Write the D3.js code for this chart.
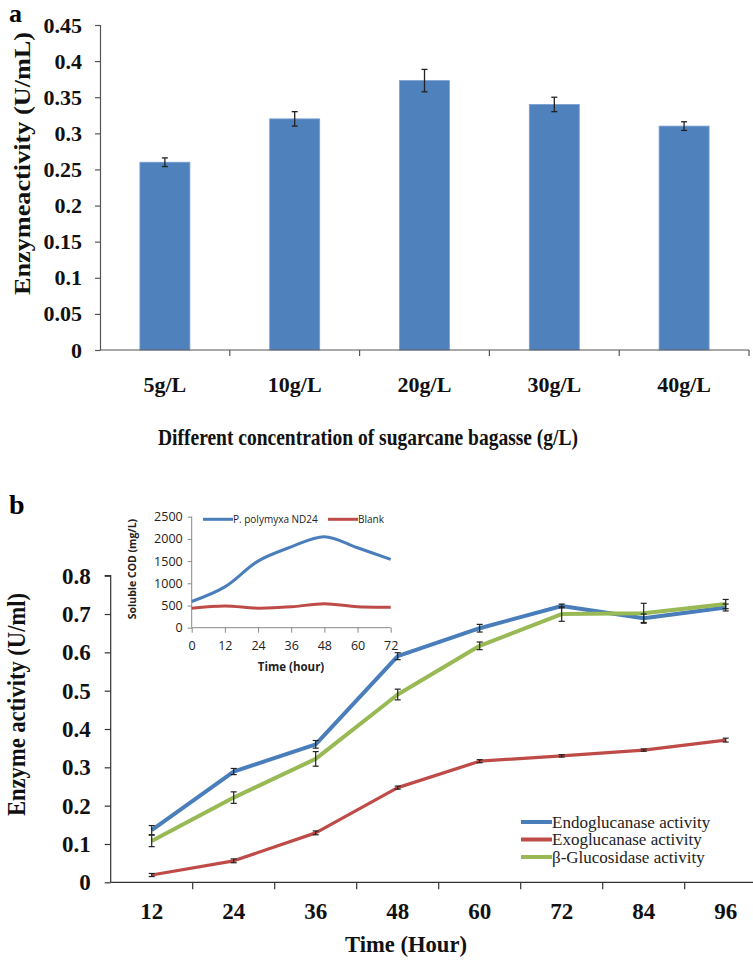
<!DOCTYPE html>
<html>
<head>
<meta charset="utf-8">
<script src="https://cdn.jsdelivr.net/npm/d3@7"></script>
<style>
  body { margin: 0; background: #fff; }
  .serif { font-family: "Liberation Serif", "Times New Roman", serif; }
  .sans { font-family: "Open Sans", "Liberation Sans", sans-serif; }
</style>
</head>
<body>
<div id="chart"></div>
<script>
// panel a data
var concentrations = ["5g/L", "10g/L", "20g/L", "30g/L", "40g/L"];
var activityA = [0.26, 0.32, 0.373, 0.34, 0.31];
var errorA = [0.006, 0.01, 0.0155, 0.01, 0.006];
var ticksA = [0, 0.05, 0.1, 0.15, 0.2, 0.25, 0.3, 0.35, 0.4, 0.45];

// panel b data
var hours = [12, 24, 36, 48, 60, 72, 84, 96];
var endo = [0.136, 0.289, 0.36, 0.59, 0.663, 0.721, 0.689, 0.717];
var endoErr = [0.012, 0.008, 0.01, 0.009, 0.01, 0.005, 0.011, 0.009];
var exo = [0.019, 0.056, 0.129, 0.247, 0.316, 0.33, 0.345, 0.371];
var exoErr = [0.004, 0.005, 0.005, 0.004, 0.004, 0.003, 0.003, 0.005];
var gluc = [0.108, 0.221, 0.322, 0.49, 0.617, 0.70, 0.702, 0.726];
var glucErr = [0.015, 0.015, 0.019, 0.014, 0.01, 0.019, 0.026, 0.012];
var ticksB = [0, 0.1, 0.2, 0.3, 0.4, 0.5, 0.6, 0.7, 0.8];
var seriesNames = ["Endoglucanase activity", "Exoglucanase activity", "\u03b2-Glucosidase activity"];
var seriesColors = ["#4a7ebb", "#be4b48", "#98b954"];

// inset data (soluble COD)
var codHours = [0, 12, 24, 36, 48, 60, 72];
var codStrain = [590, 920, 1500, 1820, 2050, 1800, 1540];
var codBlank = [440, 490, 440, 470, 540, 470, 460];
var codTicks = [0, 500, 1000, 1500, 2000, 2500];
var codNames = ["P. polymyxa  ND24", "Blank"];

var width = 753, height = 961;

var svg = d3.select("#chart").append("svg")
    .attr("width", width)
    .attr("height", height);

//------ PANEL A: bar chart ------\\
var xA = d3.scaleBand()
    .domain(concentrations)
    .range([100, 749])
    .padding(0);
var yA = d3.scaleLinear()
    .domain([0, 0.45])
    .range([350, 25]);
var barW = xA.bandwidth() * 0.385;

var gA = svg.append("g");

// bars
gA.selectAll(".bar")
    .data(activityA)
    .enter().append("rect")
    .attr("class", "bar")
    .attr("x", function(d, i) { return xA(concentrations[i]) + (xA.bandwidth() - barW) / 2; })
    .attr("y", function(d) { return yA(d); })
    .attr("width", barW)
    .attr("height", function(d) { return yA(0) - yA(d); })
    .style("fill", "#4f81bd")
    .style("stroke", "#7a9fcf")
    .style("stroke-width", 0.8);

// error bars
var errA = gA.selectAll(".errA")
    .data(activityA)
    .enter().append("g")
    .attr("transform", function(d, i) {
        return "translate(" + (xA(concentrations[i]) + xA.bandwidth() / 2) + ",0)";
    })
    .style("stroke", "#222")
    .style("stroke-width", 1.3);
errA.append("line")
    .attr("y1", function(d, i) { return yA(d + errorA[i]); })
    .attr("y2", function(d, i) { return yA(d - errorA[i]); });
errA.append("line")
    .attr("x1", -3).attr("x2", 3)
    .attr("y1", function(d, i) { return yA(d + errorA[i]); })
    .attr("y2", function(d, i) { return yA(d + errorA[i]); });
errA.append("line")
    .attr("x1", -3).attr("x2", 3)
    .attr("y1", function(d, i) { return yA(d - errorA[i]); })
    .attr("y2", function(d, i) { return yA(d - errorA[i]); });

// y axis
var yAxisA = gA.append("g")
    .attr("transform", "translate(100,0)")
    .call(d3.axisLeft(yA).tickValues(ticksA).tickSize(5).tickPadding(13)
        .tickFormat(function(d) { return d === 0 ? "0" : String(+d.toFixed(2)); }));
yAxisA.selectAll("line, path").style("stroke", "#555").style("stroke-width", 1.2);
yAxisA.select(".domain").attr("d", "M-5,25.5H0.5V350.5");
yAxisA.selectAll("text")
    .attr("class", "serif")
    .style("font-size", "22px")
    .style("font-weight", "bold")
    .style("fill", "#111");

// x axis
var xAxisA = gA.append("g")
    .attr("transform", "translate(0,350)");
xAxisA.append("line")
    .attr("x1", 100).attr("x2", 749)
    .style("stroke", "#555").style("stroke-width", 1.2);
xAxisA.selectAll(".tk")
    .data(concentrations)
    .enter().append("line")
    .attr("x1", function(d) { return xA(d) + xA.bandwidth(); })
    .attr("x2", function(d) { return xA(d) + xA.bandwidth(); })
    .attr("y1", 0).attr("y2", 6)
    .style("stroke", "#555").style("stroke-width", 1.2);
xAxisA.selectAll(".lbl")
    .data(concentrations)
    .enter().append("text")
    .attr("class", "serif")
    .attr("x", function(d) { return xA(d) + xA.bandwidth() / 2; })
    .attr("y", 42)
    .attr("text-anchor", "middle")
    .style("font-size", "22px")
    .style("font-weight", "bold")
    .style("fill", "#111")
    .text(function(d) { return d; });

// titles
gA.append("text")
    .attr("class", "serif")
    .attr("x", 158).attr("y", 445)
    .attr("textLength", 420)
    .attr("lengthAdjust", "spacingAndGlyphs")
    .style("font-size", "23px")
    .style("font-weight", "bold")
    .style("fill", "#111")
    .text("Different concentration of sugarcane bagasse (g/L)");
gA.append("text")
    .attr("class", "serif")
    .attr("transform", "translate(30,295) rotate(-90)")
    .attr("textLength", 263)
    .attr("lengthAdjust", "spacingAndGlyphs")
    .style("font-size", "24px")
    .style("font-weight", "bold")
    .style("fill", "#111")
    .text("Enzymeactivity (U/mL)");
gA.append("text")
    .attr("class", "serif")
    .attr("x", 9).attr("y", 22)
    .style("font-size", "26px")
    .style("font-weight", "bold")
    .text("a");

//------ PANEL B: line chart ------\\
var xB = d3.scaleBand()
    .domain(hours.concat([108]))
    .range([110.7, 110.7 + 9 * 82])
    .padding(0);
var yB = d3.scaleLinear()
    .domain([0, 0.8])
    .range([882.3, 575.7]);
var cx = function(h) { return xB(h) + xB.bandwidth() / 2; };

var gB = svg.append("g");

// y axis
var yAxisB = gB.append("g")
    .attr("transform", "translate(110.7,0)")
    .call(d3.axisLeft(yB).tickValues(ticksB).tickSize(6).tickPadding(14)
        .tickFormat(function(d) { return d === 0 ? "0" : String(+d.toFixed(1)); }));
yAxisB.selectAll("line, path").style("stroke", "#333").style("stroke-width", 1.2);
yAxisB.select(".domain").attr("d", "M-6,575.7H0V882.3");
yAxisB.selectAll("text")
    .attr("class", "serif")
    .style("font-size", "23px")
    .style("font-weight", "bold")
    .style("fill", "#111");

// x axis
var xAxisB = gB.append("g")
    .attr("transform", "translate(0,882.3)");
xAxisB.append("line")
    .attr("x1", 110.7).attr("x2", width)
    .style("stroke", "#333").style("stroke-width", 1.2);
xAxisB.selectAll(".tk")
    .data(hours)
    .enter().append("line")
    .attr("x1", function(d) { return xB(d) + xB.bandwidth(); })
    .attr("x2", function(d) { return xB(d) + xB.bandwidth(); })
    .attr("y1", 0).attr("y2", 7)
    .style("stroke", "#333").style("stroke-width", 1.2);
xAxisB.selectAll(".lbl")
    .data(hours)
    .enter().append("text")
    .attr("class", "serif")
    .attr("x", function(d) { return cx(d); })
    .attr("y", 37)
    .attr("text-anchor", "middle")
    .style("font-size", "23px")
    .style("font-weight", "bold")
    .style("fill", "#111")
    .text(function(d) { return d; });

// lines
var seriesB = [
    { name: seriesNames[0], values: endo, errs: endoErr, color: seriesColors[0], w: 4 },
    { name: seriesNames[1], values: exo, errs: exoErr, color: seriesColors[1], w: 3.2 },
    { name: seriesNames[2], values: gluc, errs: glucErr, color: seriesColors[2], w: 4 }
];
var lineB = d3.line()
    .x(function(d, i) { return cx(hours[i]); })
    .y(function(d) { return yB(d); });

seriesB.forEach(function(s) {
    gB.append("path")
        .datum(s.values)
        .attr("d", lineB)
        .style("fill", "none")
        .style("stroke", s.color)
        .style("stroke-width", s.w)
        .style("stroke-linejoin", "round");
});

// error bars on top
seriesB.forEach(function(s) {
    var eb = gB.append("g")
        .selectAll("g")
        .data(s.values)
        .enter().append("g")
        .attr("transform", function(d, i) { return "translate(" + cx(hours[i]) + ",0)"; })
        .style("stroke", "#222")
        .style("stroke-width", 1.2);
    eb.append("line")
        .attr("y1", function(d, i) { return yB(d + s.errs[i]); })
        .attr("y2", function(d, i) { return yB(d - s.errs[i]); });
    eb.append("line")
        .attr("x1", -3).attr("x2", 3)
        .attr("y1", function(d, i) { return yB(d + s.errs[i]); })
        .attr("y2", function(d, i) { return yB(d + s.errs[i]); });
    eb.append("line")
        .attr("x1", -3).attr("x2", 3)
        .attr("y1", function(d, i) { return yB(d - s.errs[i]); })
        .attr("y2", function(d, i) { return yB(d - s.errs[i]); });
});

// legend
var legB = gB.append("g")
    .attr("transform", "translate(521,822)");
var legItem = legB.selectAll("g")
    .data(seriesB)
    .enter().append("g")
    .attr("transform", function(d, i) { return "translate(0," + (i * 17.5) + ")"; });
legItem.append("line")
    .attr("x1", 0).attr("x2", 31)
    .style("stroke", function(d) { return d.color; })
    .style("stroke-width", 4);
legItem.append("text")
    .attr("class", "serif")
    .attr("x", 31).attr("y", 5.5)
    .style("font-size", "17px")
    .style("fill", "#222")
    .text(function(d) { return d.name; });

// titles
gB.append("text")
    .attr("class", "serif")
    .attr("x", 345).attr("y", 952)
    .attr("textLength", 122)
    .attr("lengthAdjust", "spacingAndGlyphs")
    .style("font-size", "23px")
    .style("font-weight", "bold")
    .style("fill", "#111")
    .text("Time (Hour)");
gB.append("text")
    .attr("class", "serif")
    .attr("transform", "translate(25,816) rotate(-90)")
    .attr("textLength", 223)
    .attr("lengthAdjust", "spacingAndGlyphs")
    .style("font-size", "25px")
    .style("font-weight", "bold")
    .style("fill", "#111")
    .text("Enzyme activity (U/ml)");
gB.append("text")
    .attr("class", "serif")
    .attr("x", 9).attr("y", 514)
    .style("font-size", "28px")
    .style("font-weight", "bold")
    .text("b");

//------ INSET: soluble COD ------\\
var xI = d3.scaleLinear()
    .domain([0, 72])
    .range([191.7, 390.7]);
var yI = d3.scaleLinear()
    .domain([0, 2500])
    .range([627.7, 516.7]);

var gI = svg.append("g");

var yAxisI = gI.append("g")
    .attr("transform", "translate(191.7,0)")
    .call(d3.axisLeft(yI).tickValues(codTicks).tickSize(4).tickPadding(5)
        .tickFormat(d3.format("d")));
yAxisI.selectAll("line, path").style("stroke", "#888");
yAxisI.select(".domain").attr("d", "M0,516.7V627.7");
yAxisI.selectAll("text")
    .attr("class", "sans")
    .style("font-size", "12.5px")
    .style("fill", "#222");

var xAxisI = gI.append("g")
    .attr("transform", "translate(0,627.7)")
    .call(d3.axisBottom(xI).tickValues(codHours).tickSize(5).tickPadding(8)
        .tickFormat(d3.format("d")));
xAxisI.selectAll("line, path").style("stroke", "#888");
xAxisI.select(".domain").attr("d", "M191.7,0H390.7");
xAxisI.selectAll("text")
    .attr("class", "sans")
    .style("font-size", "12.5px")
    .style("fill", "#222");

var lineI = d3.line()
    .x(function(d, i) { return xI(codHours[i]); })
    .y(function(d) { return yI(d); })
    .curve(d3.curveCatmullRom.alpha(0.5));

gI.append("path")
    .datum(codStrain)
    .attr("d", lineI)
    .style("fill", "none")
    .style("stroke", seriesColors[0])
    .style("stroke-width", 3);
gI.append("path")
    .datum(codBlank)
    .attr("d", lineI)
    .style("fill", "none")
    .style("stroke", seriesColors[1])
    .style("stroke-width", 3);

// inset legend
var legI = gI.append("g").attr("transform", "translate(0,519.3)");
var legIX = [203, 328];
codNames.forEach(function(n, i) {
    legI.append("line")
        .attr("x1", legIX[i]).attr("x2", legIX[i] + 30)
        .style("stroke", seriesColors[i])
        .style("stroke-width", 3);
    legI.append("text")
        .attr("class", "sans")
        .attr("x", legIX[i] + 30).attr("y", 3.5)
        .style("font-size", "10px")
        .style("fill", "#222")
        .text(n);
});

gI.append("text")
    .attr("class", "sans")
    .attr("x", 291).attr("y", 671)
    .attr("text-anchor", "middle")
    .style("font-size", "11.5px")
    .style("font-weight", "bold")
    .style("fill", "#222")
    .text("Time (hour)");
gI.append("text")
    .attr("class", "sans")
    .attr("transform", "translate(136,569) rotate(-90)")
    .attr("text-anchor", "middle")
    .style("font-size", "10.5px")
    .style("font-weight", "bold")
    .style("fill", "#222")
    .text("Soluble COD (mg/L)");
</script>
</body>
</html>
